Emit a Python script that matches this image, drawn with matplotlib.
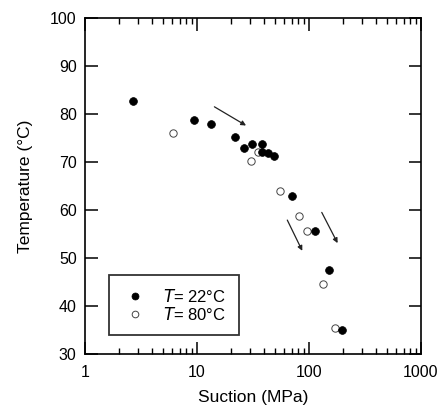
import matplotlib
matplotlib.use("Agg")
import matplotlib.pyplot as plt
from matplotlib.ticker import LogLocator, FixedLocator, NullFormatter

plt.rcParams['font.family'] = ['Liberation Sans', 'DejaVu Sans']

# Data
suction_22 = [2.7, 9.4, 13.3, 21.7, 26.5, 31.2, 38.3, 38.3, 42.8, 48.4, 70.5, 112, 150, 196]
temp_22 = [82.8, 78.8, 77.9, 75.2, 73.0, 73.8, 73.8, 72.0, 71.8, 71.3, 62.9, 55.6, 47.4, 34.9]
suction_80 = [6.1, 35.1, 30.3, 55.1, 81.4, 96.6, 133, 172]
temp_80 = [76.0, 72.1, 70.3, 64.0, 58.8, 55.7, 44.5, 35.4]

arrows = [((14.3, 81.5), (27.4, 77.6)),
          ((64.0, 57.9), (87.1, 51.5)),
          ((130, 59.5), (180, 53.1))]

yticks = [30, 40, 50, 60, 70, 80, 90, 100]
xticks = [1, 10, 100, 1000]
xticklabels = ['1', '10', '100', '1000']

fig = plt.figure(figsize=(4.38, 4.12), dpi=100)
ax = fig.add_axes([85/438, 1-354/412, (421-85)/438, (354-18)/412])

ax.plot(suction_80, temp_80, 'o', ms=5.3, mfc='white', mec='#444444', mew=0.7, zorder=3,
        label=r'$\mathit{T}$= 80°C')
ax.plot(suction_22, temp_22, 'o', ms=5.6, mfc='black', mec='black', mew=0.5, zorder=4,
        label=r'$\mathit{T}$= 22°C')

for (s, e) in arrows:
    ax.annotate('', xy=e, xytext=s,
                arrowprops=dict(arrowstyle='-|>', color='#222222', lw=0.9,
                                mutation_scale=7, shrinkA=0, shrinkB=0))

ax.set_xscale('log')
ax.set_xlim(1, 1000)
ax.set_ylim(30, 100)
ax.xaxis.set_major_locator(FixedLocator(xticks))
ax.set_xticks(xticks)
ax.set_xticklabels(xticklabels)
ax.xaxis.set_minor_locator(LogLocator(base=10, subs=range(2, 10)))
ax.xaxis.set_minor_formatter(NullFormatter())
ax.set_yticks(yticks)

ax.tick_params(which='major', direction='in', length=9, width=1.1, top=True, right=True,
               labelsize=11.5)
ax.tick_params(axis='x', which='major', pad=8)
ax.tick_params(axis='y', which='major', pad=6)
ax.tick_params(which='minor', direction='in', length=4, width=1.0, top=True, right=True)
for sp in ax.spines.values():
    sp.set_linewidth(1.2)

ax.set_xlabel('Suction (MPa)', fontsize=12.5, labelpad=7)
ax.set_ylabel('Temperature (°C)', fontsize=12.5, labelpad=12)

handles, labels = ax.get_legend_handles_labels()
leg = ax.legend(handles[::-1], labels[::-1], loc='lower left',
                bbox_to_anchor=(24/336, 19/336), frameon=True, fancybox=False,
                edgecolor='black', fontsize=12, handletextpad=0.9, borderpad=0.75,
                labelspacing=0.05, handlelength=1.6, borderaxespad=0, markerscale=0.9)
leg.get_frame().set_linewidth(1.3)

fig.savefig('out.png', dpi=100)
